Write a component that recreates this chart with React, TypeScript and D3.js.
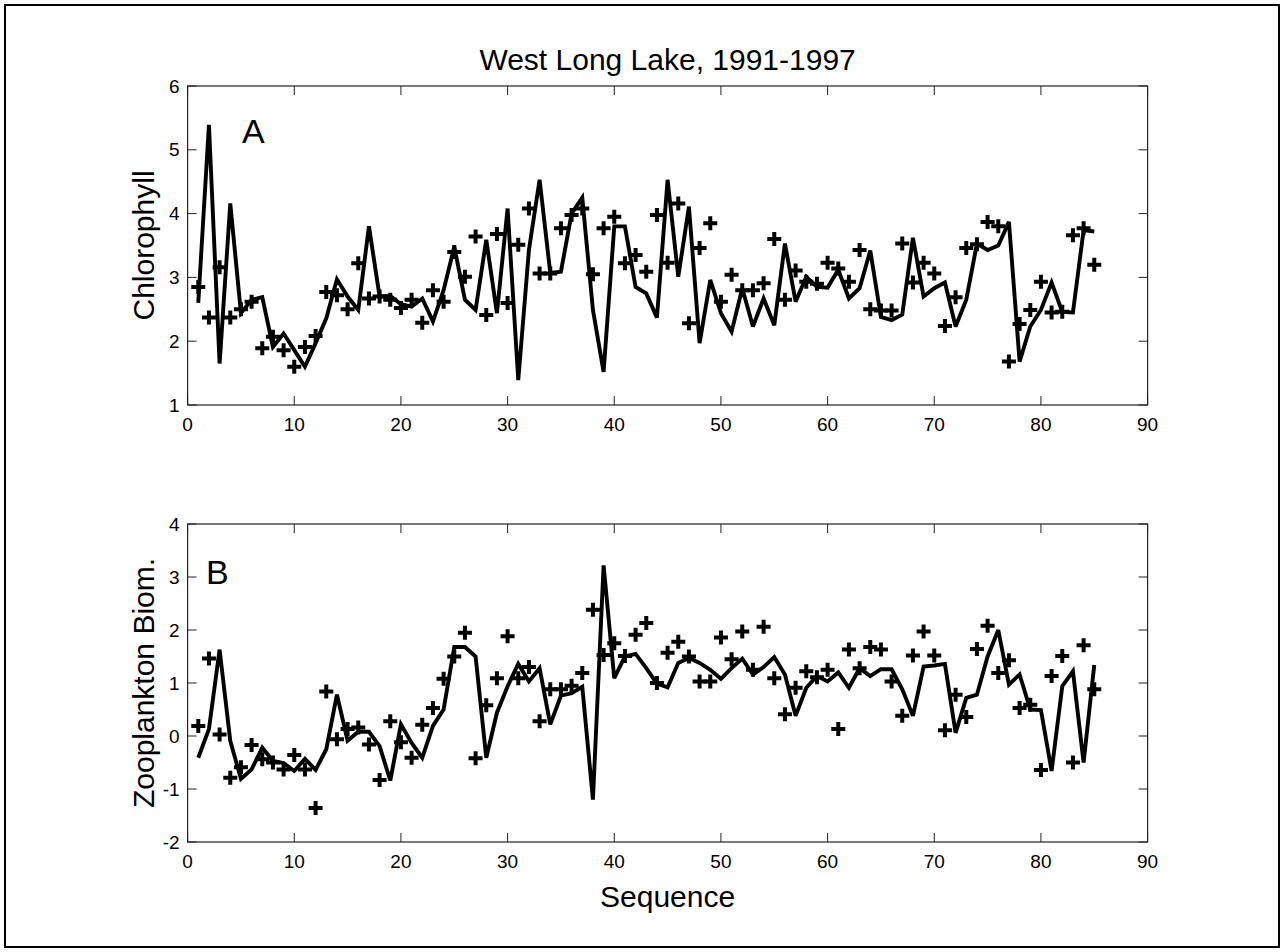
import React from "react";
import * as d3 from "d3";

// ---- Data ----
const chlModel = [
  2.6, 5.39, 1.65, 4.16, 2.44, 2.65, 2.69, 1.91, 2.12, 1.86,
  1.6, 1.97, 2.36, 2.97, 2.7, 2.49, 3.8, 2.7, 2.71, 2.58,
  2.54, 2.67, 2.31, 2.8, 3.48, 2.65, 2.49, 3.59, 2.44, 4.08,
  1.39, 3.43, 4.53, 3.07, 3.09, 4.0, 4.25, 2.49, 1.52, 3.8,
  3.8, 2.85, 2.75, 2.37, 4.53, 3.01, 4.11, 1.97, 2.96, 2.44,
  2.15, 2.83, 2.23, 2.67, 2.25, 3.53, 2.62, 3.01, 2.85, 2.84,
  3.12, 2.67, 2.83, 3.42, 2.38, 2.33, 2.42, 3.62, 2.7, 2.83,
  2.92, 2.23, 2.65, 3.53, 3.43, 3.5, 3.87, 1.68, 2.23, 2.49,
  2.92, 2.46, 2.45, 3.74, 3.72,
];

const chlObs = [
  2.85, 2.37, 3.16, 2.37, 2.5, 2.62, 1.89, 2.07, 1.86, 1.6,
  1.91, 2.08, 2.77, 2.72, 2.5, 3.22, 2.67, 2.7, 2.65, 2.52,
  2.65, 2.29, 2.8, 2.62, 3.4, 3.01, 3.64, 2.41, 3.68, 2.6,
  3.51, 4.08, 3.06, 3.06, 3.77, 3.98, 4.08, 3.05, 3.77, 3.95,
  3.22, 3.35, 3.09, 3.98, 3.23, 4.16, 2.28, 3.46, 3.85, 2.62,
  3.04, 2.8, 2.8, 2.91, 3.6, 2.65, 3.11, 2.93, 2.9, 3.23,
  3.14, 2.93, 3.43, 2.5, 2.48, 2.48, 3.53, 2.92, 3.23, 3.06,
  2.24, 2.69, 3.46, 3.52, 3.87, 3.8, 1.68, 2.27, 2.49, 2.93,
  2.45, 2.46, 3.66, 3.77, 3.2,
];

const zooModel = [
  -0.41, 0.13, 1.63, -0.09, -0.81, -0.63, -0.22, -0.47, -0.51, -0.66,
  -0.43, -0.64, -0.25, 0.78, -0.09, 0.08, 0.08, -0.19, -0.84, 0.22,
  -0.13, -0.41, 0.19, 0.5, 1.68, 1.68, 1.5, -0.41, 0.44, 0.94,
  1.36, 1.03, 1.28, 0.22, 0.76, 0.81, 0.93, -1.2, 3.22, 1.09,
  1.5, 1.55, 1.28, 0.99, 0.92, 1.38, 1.47, 1.38, 1.25, 1.08,
  1.28, 1.46, 1.16, 1.3, 1.49, 1.16, 0.38, 0.91, 1.13, 1.03,
  1.2, 0.91, 1.28, 1.13, 1.26, 1.26, 0.88, 0.38, 1.31, 1.33,
  1.36, 0.06, 0.72, 0.78, 1.5, 2.0, 0.97, 1.16, 0.5, 0.49,
  -0.66, 0.94, 1.22, -0.5, 1.34,
];

const zooObs = [
  0.19, 1.46, 0.03, -0.79, -0.59, -0.17, -0.44, -0.5, -0.63, -0.36,
  -0.63, -1.36, 0.84, -0.06, 0.13, 0.16, -0.16, -0.83, 0.28, -0.12,
  -0.41, 0.21, 0.53, 1.08, 1.5, 1.95, -0.42, 0.58, 1.09, 1.88,
  1.09, 1.3, 0.28, 0.88, 0.88, 0.95, 1.19, 2.38, 1.53, 1.75,
  1.51, 1.91, 2.13, 1.0, 1.57, 1.78, 1.5, 1.03, 1.03, 1.86,
  1.45, 1.97, 1.25, 2.06, 1.09, 0.41, 0.91, 1.22, 1.11, 1.25,
  0.13, 1.63, 1.28, 1.68, 1.63, 1.03, 0.38, 1.52, 1.97, 1.52,
  0.11, 0.78, 0.36, 1.64, 2.08, 1.19, 1.43, 0.53, 0.59, -0.64,
  1.13, 1.51, -0.5, 1.71, 0.88,
];

const seqTicks = [0, 10, 20, 30, 40, 50, 60, 70, 80, 90];
const chlTicks = [1, 2, 3, 4, 5, 6];
const zooTicks = [-2, -1, 0, 1, 2, 3, 4];

const titleText = "West Long Lake, 1991-1997";
const xLabelText = "Sequence";

// ---- Layout ----
const W = 1284;
const H = 952;
const LEFT = 187.6;
const RIGHT = 1147.6;
const FONT = "'Liberation Sans', Arial, Helvetica, sans-serif";
const TICK = 9;

type PanelProps = {
  top: number;
  bottom: number;
  yDomain: [number, number];
  yTicks: number[];
  model: number[];
  obs: number[];
  ylabel: string;
  letter: string;
  letterX: number;
  letterY: number;
};

function Panel(p: PanelProps) {
  const x = d3.scaleLinear().domain([0, 90]).range([LEFT, RIGHT]);
  const y = d3.scaleLinear().domain(p.yDomain).range([p.bottom, p.top]);
  const pts = p.model.map((v, i) => [i + 1, v] as [number, number]);
  const line = d3
    .line<[number, number]>()
    .x((d) => x(d[0]))
    .y((d) => y(d[1]));
  const s = 7;
  const axisColor = "#222";
  return (
    <g>
      <path
        d={line(pts) || ""}
        fill="none"
        stroke="#000"
        strokeWidth={3.9}
        strokeLinejoin="miter"
        strokeMiterlimit={3}
      />
      {p.obs.map((v, i) => {
        const cx = x(i + 1);
        const cy = y(v);
        return (
          <path
            key={i}
            d={`M${cx - s},${cy}H${cx + s}M${cx},${cy - s}V${cy + s}`}
            stroke="#000"
            strokeWidth={4}
            fill="none"
          />
        );
      })}
      <rect
        x={LEFT}
        y={p.top}
        width={RIGHT - LEFT}
        height={p.bottom - p.top}
        fill="none"
        stroke={axisColor}
        strokeWidth={1.2}
      />
      {seqTicks.map((t) => (
        <g key={"x" + t}>
          <line x1={x(t)} x2={x(t)} y1={p.bottom} y2={p.bottom - TICK} stroke={axisColor} strokeWidth={1} />
          <line x1={x(t)} x2={x(t)} y1={p.top} y2={p.top + TICK} stroke={axisColor} strokeWidth={1} />
          <text x={x(t)} y={p.bottom + 26} textAnchor="middle" fontSize={19} fontFamily={FONT} fill="#000">
            {t}
          </text>
        </g>
      ))}
      {p.yTicks.map((t) => (
        <g key={"y" + t}>
          <line x1={LEFT} x2={LEFT + TICK} y1={y(t)} y2={y(t)} stroke={axisColor} strokeWidth={1} />
          <line x1={RIGHT} x2={RIGHT - TICK} y1={y(t)} y2={y(t)} stroke={axisColor} strokeWidth={1} />
          <text x={LEFT - 8} y={y(t)} dy="0.35em" textAnchor="end" fontSize={19} fontFamily={FONT} fill="#000">
            {t}
          </text>
        </g>
      ))}
      <text
        transform={`translate(154,${(p.top + p.bottom) / 2}) rotate(-90)`}
        textAnchor="middle"
        fontSize={30}
        fontFamily={FONT}
        fill="#000"
      >
        {p.ylabel}
      </text>
      <text x={p.letterX} y={p.letterY} fontSize={34} fontFamily={FONT} fill="#000">
        {p.letter}
      </text>
    </g>
  );
}

export default function App() {
  return (
    <svg
      width={W}
      height={H}
      viewBox={`0 0 ${W} ${H}`}
      style={{ position: "absolute", left: 0, top: 0, background: "#fff" }}
    >
      <rect x={0} y={0} width={W} height={H} fill="#fff" />
      <rect x={5} y={5} width={W - 10} height={H - 10} fill="none" stroke="#000" strokeWidth={2} />
      <text x={(LEFT + RIGHT) / 2} y={70} textAnchor="middle" fontSize={30} fontFamily={FONT} fill="#000">
        {titleText}
      </text>
      <Panel
        top={86}
        bottom={405}
        yDomain={[1, 6]}
        yTicks={chlTicks}
        model={chlModel}
        obs={chlObs}
        ylabel="Chlorophyll"
        letter="A"
        letterX={242}
        letterY={143}
      />
      <Panel
        top={524}
        bottom={842}
        yDomain={[-2, 4]}
        yTicks={zooTicks}
        model={zooModel}
        obs={zooObs}
        ylabel="Zooplankton Biom."
        letter="B"
        letterX={206}
        letterY={584}
      />
      <text x={(LEFT + RIGHT) / 2} y={907} textAnchor="middle" fontSize={30} fontFamily={FONT} fill="#000">
        {xLabelText}
      </text>
    </svg>
  );
}
